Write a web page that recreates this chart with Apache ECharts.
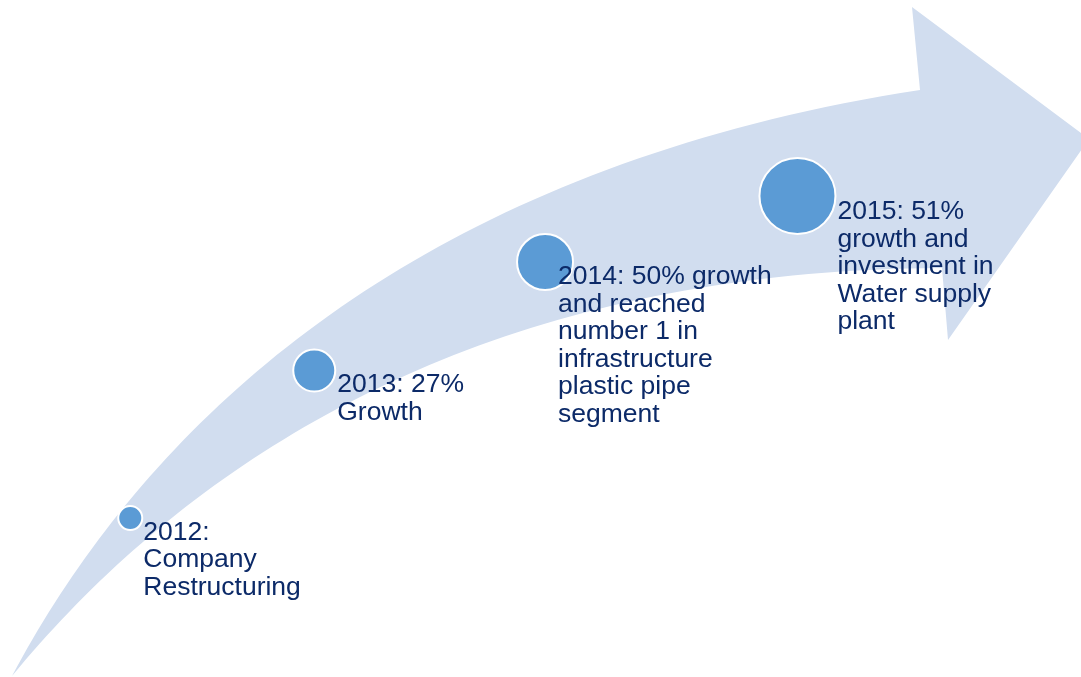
<!DOCTYPE html>
<html>
<head>
<meta charset="utf-8">
<title>Company milestones 2012–2015</title>
<script src="https://cdn.jsdelivr.net/npm/echarts@6/dist/echarts.min.js"></script>
<style>
  html, body { margin: 0; padding: 0; background: #ffffff; }
  #chart { width: 1081px; height: 677px; }
</style>
</head>
<body>
<div id="chart"></div>
<script>
// Milestones along the growth arrow
const years = ['2012', '2013', '2014', '2015'];
const milestones = [
  '2012:\nCompany\nRestructuring',
  '2013: 27%\nGrowth',
  '2014: 50% growth\nand reached\nnumber 1 in\ninfrastructure\nplastic pipe\nsegment',
  '2015: 51%\ngrowth and\ninvestment in\nWater supply\nplant'
];
// Progress along the arrow (0–100 across, 0–100 up)
const progressX = [12.05, 29.07, 50.42, 73.77];
const progressY = [23.49, 45.27, 61.30, 71.05];

// Marker look: bubbles grow with each stage
const markerSizes = [24, 42, 56, 76];
const labelGaps = [14, 24, 14, 41];
const labelDrop = [1.5, 1.5, 2, 3];

// Sample a cubic Bezier into a list of points
function cubic(p0, p1, p2, p3, steps) {
  const pts = [];
  for (let k = 0; k <= steps; k++) {
    const t = k / steps, u = 1 - t;
    const a = u * u * u, b = 3 * u * u * t, c = 3 * u * t * t, d = t * t * t;
    pts.push([
      a * p0[0] + b * p1[0] + c * p2[0] + d * p3[0],
      a * p0[1] + b * p1[1] + c * p2[1] + d * p3[1]
    ]);
  }
  return pts;
}

// Outline of the curved arrow: outer edge, arrow head, inner edge back to the tail
const outerEdge = cubic([12, 676], [140, 435], [400, 170], [920, 90], 80);
const head = [[912, 7], [1089, 139], [948, 340]];
const innerEdge = cubic([942, 268], [480, 270], [190, 460], [12, 676], 80);
const arrowOutline = outerEdge.concat(head, innerEdge);

const chart = echarts.init(document.getElementById('chart'), null, { renderer: 'canvas' });

const points = years.map((y, i) => ({
  name: y,
  value: [progressX[i], progressY[i]],
  symbolSize: markerSizes[i],
  label: {
    formatter: milestones[i],
    position: [markerSizes[i] / 2 + labelGaps[i], markerSizes[i] / 2 + labelDrop[i]]
  }
}));

chart.setOption({
  animation: false,
  backgroundColor: '#ffffff',
  grid: { left: 0, right: 0, top: 0, bottom: 0 },
  xAxis: { type: 'value', min: 0, max: 100, show: false },
  yAxis: { type: 'value', min: 0, max: 100, show: false },
  graphic: [{
    type: 'polygon',
    silent: true,
    z: 0,
    shape: { points: arrowOutline },
    style: { fill: '#D1DDEF' }
  }],
  series: [{
    type: 'scatter',
    z: 5,
    symbol: 'circle',
    data: points,
    itemStyle: { color: '#5B9BD5', borderColor: '#ffffff', borderWidth: 2, opacity: 1 },
    emphasis: { disabled: true },
    label: {
      show: true,
      align: 'left',
      verticalAlign: 'top',
      color: '#0c2a68',
      fontFamily: '"Liberation Sans", Arial, sans-serif',
      fontSize: 26.5,
      lineHeight: 27.5
    }
  }]
});
</script>
</body>
</html>
